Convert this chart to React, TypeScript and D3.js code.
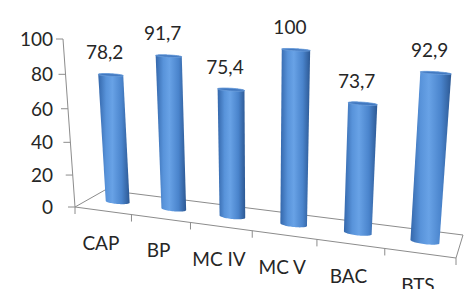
import * as d3 from 'd3'

const categories = ['CAP', 'BP', 'MC IV', 'MC V', 'BAC', 'BTS']
const values = [78.2, 91.7, 75.4, 100, 73.7, 92.9]
const yTicks = [0, 20, 40, 60, 80, 100]

const width = 466
const height = 289

// 3D view: floor corners on screen (front-left, front-right, back-right, back-left)
const floorCorners = [[75, 207], [456, 258], [463, 235], [105, 190]]
const verticalVanish = [260, 2800]
const axisTopY = 39

const font = "Lato, 'Open Sans', sans-serif"
const fmt = d3.formatLocale({ decimal: ',', thousands: ' ', grouping: [3], currency: ['', ''] }).format('')

// unit square (u along categories, v into depth) -> floor quad, plus height w
function makeProjection() {
  const [[x0, y0], [x1, y1], [x2, y2], [x3, y3]] = floorCorners
  const dx1 = x1 - x2, dy1 = y1 - y2
  const dx2 = x3 - x2, dy2 = y3 - y2
  const sx = x0 - x1 + x2 - x3, sy = y0 - y1 + y2 - y3
  const den = dx1 * dy2 - dx2 * dy1
  const g = (sx * dy2 - dx2 * sy) / den
  const h = (dx1 * sy - sx * dy1) / den
  const a = x1 - x0 + g * x1, b = x3 - x0 + h * x3, c = x0
  const d = y1 - y0 + g * y1, e = y3 - y0 + h * y3, f = y0
  const [vx, vy] = verticalVanish
  const lam = (axisTopY - f) / (vy - axisTopY)
  return (u: number, v: number, w: number): [number, number] => {
    const X = a * u + b * v + c + lam * vx * w
    const Y = d * u + e * v + f + lam * vy * w
    const Wh = g * u + h * v + 1 + lam * w
    return [X / Wh, Y / Wh]
  }
}

export default function App() {
  const project = makeProjection()
  const x = d3.scaleBand<string>().domain(categories).range([0, 1])
  const y = d3.scaleLinear().domain([0, 100]).range([0, 1])
  const line = d3.line()
  const closed = d3.line().curve(d3.curveLinearClosed)

  const ru = 0.21 / categories.length
  const rv = 0.11
  const vMid = 0.5
  const angles = d3.range(0, 2 * Math.PI, Math.PI / 30)

  const cylinders = categories.map((cat, i) => {
    const uc = (x(cat) as number) + x.bandwidth() / 2
    const w = y(values[i])
    const ring = (hw: number) => angles.map((t) => project(uc + ru * Math.cos(t), vMid + rv * Math.sin(t), hw))
    const base = ring(0)
    const top = ring(w)
    const hull = d3.polygonHull([...base, ...top] as [number, number][])
    const tc = project(uc, vMid, w)
    return { cat, hull, top, tc, label: fmt(values[i]) }
  })

  const edges = [
    [project(0, 0, 0), project(1, 0, 0)],
    [project(0, 1, 0), project(1, 1, 0)],
    [project(0, 0, 0), project(0, 1, 0)],
    [project(1, 0, 0), project(1, 1, 0)],
    [project(0, 0, 0), project(0, 0, 1)],
  ]

  const catTicks = [...categories.map((c) => x(c) as number), 1].map((u) => project(u, 0, 0))

  return (
    <svg width={width} height={height} style={{ position: 'absolute', left: 0, top: 0, background: '#fff' }}>
      <defs>
        <linearGradient id="body" x1="0" x2="1" y1="0" y2="0">
          <stop offset="0" stopColor="#3467ab" />
          <stop offset="0.25" stopColor="#5893da" />
          <stop offset="0.45" stopColor="#68a2e6" />
          <stop offset="0.75" stopColor="#4a84cc" />
          <stop offset="1" stopColor="#2c5893" />
        </linearGradient>
      </defs>

      {edges.map((p, i) => (
        <path key={i} d={line(p) || ''} stroke="#8c8c8c" strokeWidth={1} fill="none" />
      ))}

      {catTicks.map(([px, py], i) => (
        <line key={i} x1={px} x2={px} y1={py} y2={py + 7} stroke="#8c8c8c" />
      ))}

      {yTicks.map((t) => {
        const [px, py] = project(0, 0, y(t))
        return (
          <g key={t}>
            <line x1={px - 7} x2={px} y1={py} y2={py} stroke="#8c8c8c" />
            <text x={53} y={py + 7} textAnchor="end" fontFamily={font} fontSize={19} fill="#262626">
              {t}
            </text>
          </g>
        )
      })}

      {cylinders.map((cy) => (
        <g key={cy.cat}>
          <path d={closed(cy.hull as [number, number][]) || ''} fill="url(#body)" />
          <path d={closed(cy.top) || ''} fill="#4178c0" stroke="#6d9fdc" strokeWidth={0.8} />
          <text x={cy.tc[0] - 6} y={cy.tc[1] - 16} textAnchor="middle" fontFamily={font} fontSize={19} fill="#262626">
            {cy.label}
          </text>
        </g>
      ))}

      {categories.map((cat) => {
        const [px, py] = project((x(cat) as number) + x.bandwidth() / 2, 0, 0)
        return (
          <text key={cat} x={px - 2} y={py + 39} textAnchor="middle" fontFamily={font} fontSize={19} fill="#262626">
            {cat}
          </text>
        )
      })}
    </svg>
  )
}
